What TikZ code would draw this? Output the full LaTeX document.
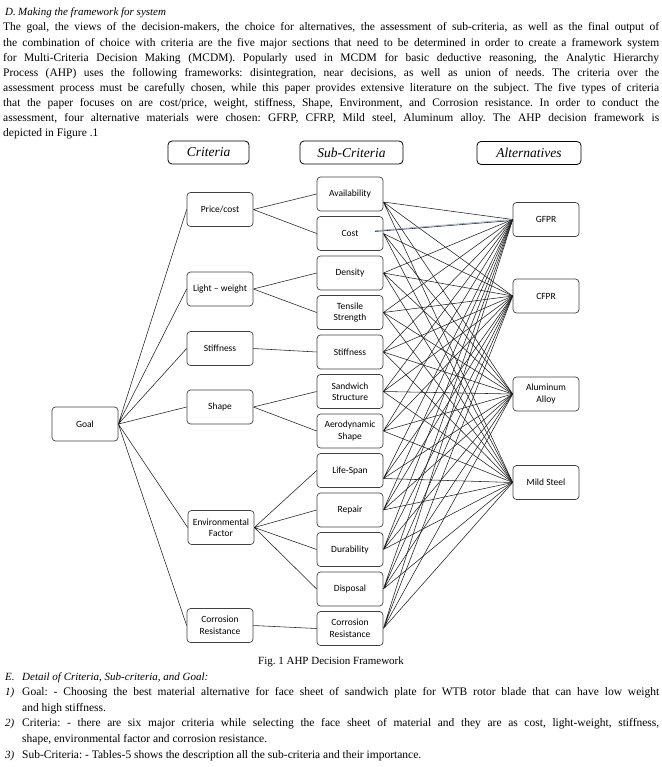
\documentclass[tikz,border=0pt]{standalone}
\usepackage{fontspec}
\setmainfont{Liberation Serif}
\newfontfamily\boxfont{Carlito}
\usepackage{tikz}
\frenchspacing

\tikzset{
  hdr/.style={draw=black, rounded corners=4pt, line width=0.8pt, minimum width=#1, minimum height=23pt, inner sep=0pt, font=\fontsize{13.5}{15}\selectfont\itshape},
  hdr/.default=81pt,
  blk/.style={draw={rgb,255:red,64;green,64;blue,64}, rounded corners=3.5pt, line width=0.7pt, minimum width=66pt, minimum height=34pt, inner sep=1pt, align=center, font=\boxfont\fontsize{9.5}{11.5}\selectfont},
  link/.style={draw={rgb,255:red,30;green,30;blue,30}, line width=0.55pt},
  bodyline/.style={anchor=base west, inner sep=0pt, font=\fontsize{11.5}{13}\selectfont},
  headline/.style={anchor=base west, inner sep=0pt, font=\fontsize{11}{13}\selectfont\itshape},
}

\begin{document}
\begin{tikzpicture}[x=1pt,y=1pt,yscale=-1,xscale=1]
\useasboundingbox (0,0) rectangle (661,767);

% Text Node
\draw (5,16) node [headline] (hd)  {D.};
\draw (18,16) node [headline] (hdt) {Making the framework for system};
% Text Node
\draw (3,31) node [bodyline] (p1) {\makebox[656pt][s]{The goal, the views of the decision-makers, the choice for alternatives, the assessment of sub-criteria, as well as the final output of}};
\draw (3,46.1) node [bodyline] (p2) {\makebox[656pt][s]{the combination of choice with criteria are the five major sections that need to be determined in order to create a framework system}};
\draw (3,61.2) node [bodyline] (p3) {\makebox[656pt][s]{for Multi-Criteria Decision Making (MCDM). Popularly used in MCDM for basic deductive reasoning, the Analytic Hierarchy}};
\draw (3,76.3) node [bodyline] (p4) {\makebox[656pt][s]{Process (AHP) uses the following frameworks: disintegration, near decisions, as well as union of needs. The criteria over the}};
\draw (3,91.4) node [bodyline] (p5) {\makebox[656pt][s]{assessment process must be carefully chosen, while this paper provides extensive literature on the subject. The five types of criteria}};
\draw (3,106.5) node [bodyline] (p6) {\makebox[656pt][s]{that the paper focuses on are cost/price, weight, stiffness, Shape, Environment, and Corrosion resistance. In order to conduct the}};
\draw (3,121.6) node [bodyline] (p7) {\makebox[656pt][s]{assessment, four alternative materials were chosen: GFRP, CFRP, Mild steel, Aluminum alloy. The AHP decision framework is}};
\draw (3,136.7) node [bodyline] (p8) {depicted in Figure .1};

%Shape: Headers
\draw (208.5,152.5) node [hdr] (hcrit) {Criteria};
\draw (351.5,152.5) node [hdr=103pt] (hsub) {Sub-Criteria};
\draw (529,153) node [hdr=104pt] (halt) {Alternatives};

%Shape: Goal
\draw (85,424) node [blk] (goal) {Goal};

%Shape: Criteria
\draw (220,209.5) node [blk] (price) {Price/cost};
\draw (220,289) node [blk] (light) {Light \textendash{} weight};
\draw (220,348.5) node [blk] (stiff) {Stiffness};
\draw (220,407) node [blk] (shape) {Shape};
\draw (221,527.5) node [blk] (env) {Environmental\\Factor};
\draw (220,625.5) node [blk] (corr) {Corrosion\\Resistance};

%Shape: Sub-Criteria
\draw (350,194) node [blk] (avail) {Availability};
\draw (350,233.5) node [blk] (cost) {Cost};
\draw (350,273) node [blk] (dens) {Density};
\draw (350,312.5) node [blk] (tens) {Tensile\\Strength};
\draw (350,352) node [blk] (sstiff) {Stiffness};
\draw (350,391.5) node [blk] (sand) {Sandwich\\Structure};
\draw (350,431) node [blk] (aero) {Aerodynamic\\Shape};
\draw (350,470.5) node [blk] (life) {Life-Span};
\draw (350,510) node [blk] (rep) {Repair};
\draw (350,549.5) node [blk] (dur) {Durability};
\draw (350,589) node [blk] (disp) {Disposal};
\draw (350,628.5) node [blk] (scorr) {Corrosion\\Resistance};

%Shape: Alternatives
\draw (546,219.5) node [blk] (gfpr) {GFPR};
\draw (546,296) node [blk] (cfpr) {CFPR};
\draw (546,394) node [blk] (alu) {Aluminum\\Alloy};
\draw (546,482.5) node [blk] (mild) {Mild Steel};

%Straight Lines: goal to criteria
\draw [link] (goal.east) -- (price.west) (goal.east) -- (light.west) (goal.east) -- (stiff.west)
  (goal.east) -- (shape.west) (goal.east) -- (env.west) (goal.east) -- (corr.west) ;

%Straight Lines: criteria to sub-criteria
\draw [link] (price.east) -- (avail.west) (price.east) -- (cost.west) ;
\draw [link] (light.east) -- (dens.west) (light.east) -- (tens.west) ;
\draw [link] (stiff.east) -- (sstiff.west) ;
\draw [link] (shape.east) -- (sand.west) (shape.east) -- (aero.west) ;
\draw [link] (env.east) -- (life.west) (env.east) -- (rep.west) (env.east) -- (dur.west) (env.east) -- (disp.west) ;
\draw [link] (corr.east) -- (scorr.west) ;

%Straight Lines: sub-criteria to alternatives
\draw [link] ([yshift=8pt]avail.east) -- (gfpr.west) ([yshift=8pt]avail.east) -- (cfpr.west) ([yshift=8pt]avail.east) -- (alu.west) ([yshift=8pt]avail.east) -- (mild.west) ;
\draw [link] (cost.east) -- (cfpr.west) (cost.east) -- (alu.west) (cost.east) -- (mild.west) ;
\coordinate (costtip) at (375,231.5);
\draw [link] (costtip) -- ([yshift=1pt]gfpr.west) ;
\draw [draw={rgb,255:red,120;green,150;blue,220}, line width=0.55pt] ([yshift=-0.8pt]costtip) -- (gfpr.west) ;
\draw [link] (dens.east) -- (gfpr.west) (dens.east) -- (cfpr.west) (dens.east) -- (alu.west) (dens.east) -- (mild.west) ;
\draw [link] (tens.east) -- (gfpr.west) (tens.east) -- (cfpr.west) (tens.east) -- (alu.west) (tens.east) -- (mild.west) ;
\draw [link] (sstiff.east) -- (gfpr.west) (sstiff.east) -- (cfpr.west) (sstiff.east) -- (alu.west) (sstiff.east) -- (mild.west) ;
\draw [link] (sand.east) -- (gfpr.west) (sand.east) -- (cfpr.west) (sand.east) -- (alu.west) (sand.east) -- (mild.west) ;
\draw [link] (aero.east) -- (gfpr.west) (aero.east) -- (cfpr.west) (aero.east) -- (alu.west) (aero.east) -- (mild.west) ;
\draw [link] ([yshift=8pt]life.east) -- (gfpr.west) ([yshift=8pt]life.east) -- (cfpr.west) ([yshift=8pt]life.east) -- (alu.west) ([yshift=8pt]life.east) -- (mild.west) ;
\draw [link] (rep.east) -- (gfpr.west) (rep.east) -- (cfpr.west) (rep.east) -- (alu.west) (rep.east) -- (mild.west) ;
\draw [link] (dur.east) -- (gfpr.west) (dur.east) -- (cfpr.west) (dur.east) -- (alu.west) (dur.east) -- (mild.west) ;
\draw [link] (disp.east) -- (gfpr.west) (disp.east) -- (cfpr.west) (disp.east) -- (alu.west) (disp.east) -- (mild.west) ;
\draw [link] (scorr.east) -- (gfpr.west) (scorr.east) -- (cfpr.west) (scorr.east) -- (alu.west) (scorr.east) -- (mild.west) ;

% Text Node
\draw (331,664) node [bodyline, anchor=base, font=\fontsize{11}{13}\selectfont] (cap) {Fig. 1 AHP Decision Framework};
% Text Node
\draw (5,680) node [headline] (he) {E.};
\draw (22,680) node [headline] (het) {Detail of Criteria, Sub-criteria, and Goal:};
\draw (5,695.5) node [headline] (n1) {1)};
\draw (22,695.5) node [bodyline] (q1) {\makebox[637pt][s]{Goal: - Choosing the best material alternative for face sheet of sandwich plate for WTB rotor blade that can have low weight}};
\draw (22,711) node [bodyline] (q2) {and high stiffness.};
\draw (5,726.5) node [headline] (n2) {2)};
\draw (22,726.5) node [bodyline] (q3) {\makebox[637pt][s]{Criteria: - there are six major criteria while selecting the face sheet of material and they are as cost, light-weight, stiffness,}};
\draw (22,742) node [bodyline] (q4) {shape, environmental factor and corrosion resistance.};
\draw (5,758) node [headline] (n3) {3)};
\draw (22,758) node [bodyline] (q5) {Sub-Criteria: - Tables-5 shows the description all the sub-criteria and their importance.};

\end{tikzpicture}
\end{document}
